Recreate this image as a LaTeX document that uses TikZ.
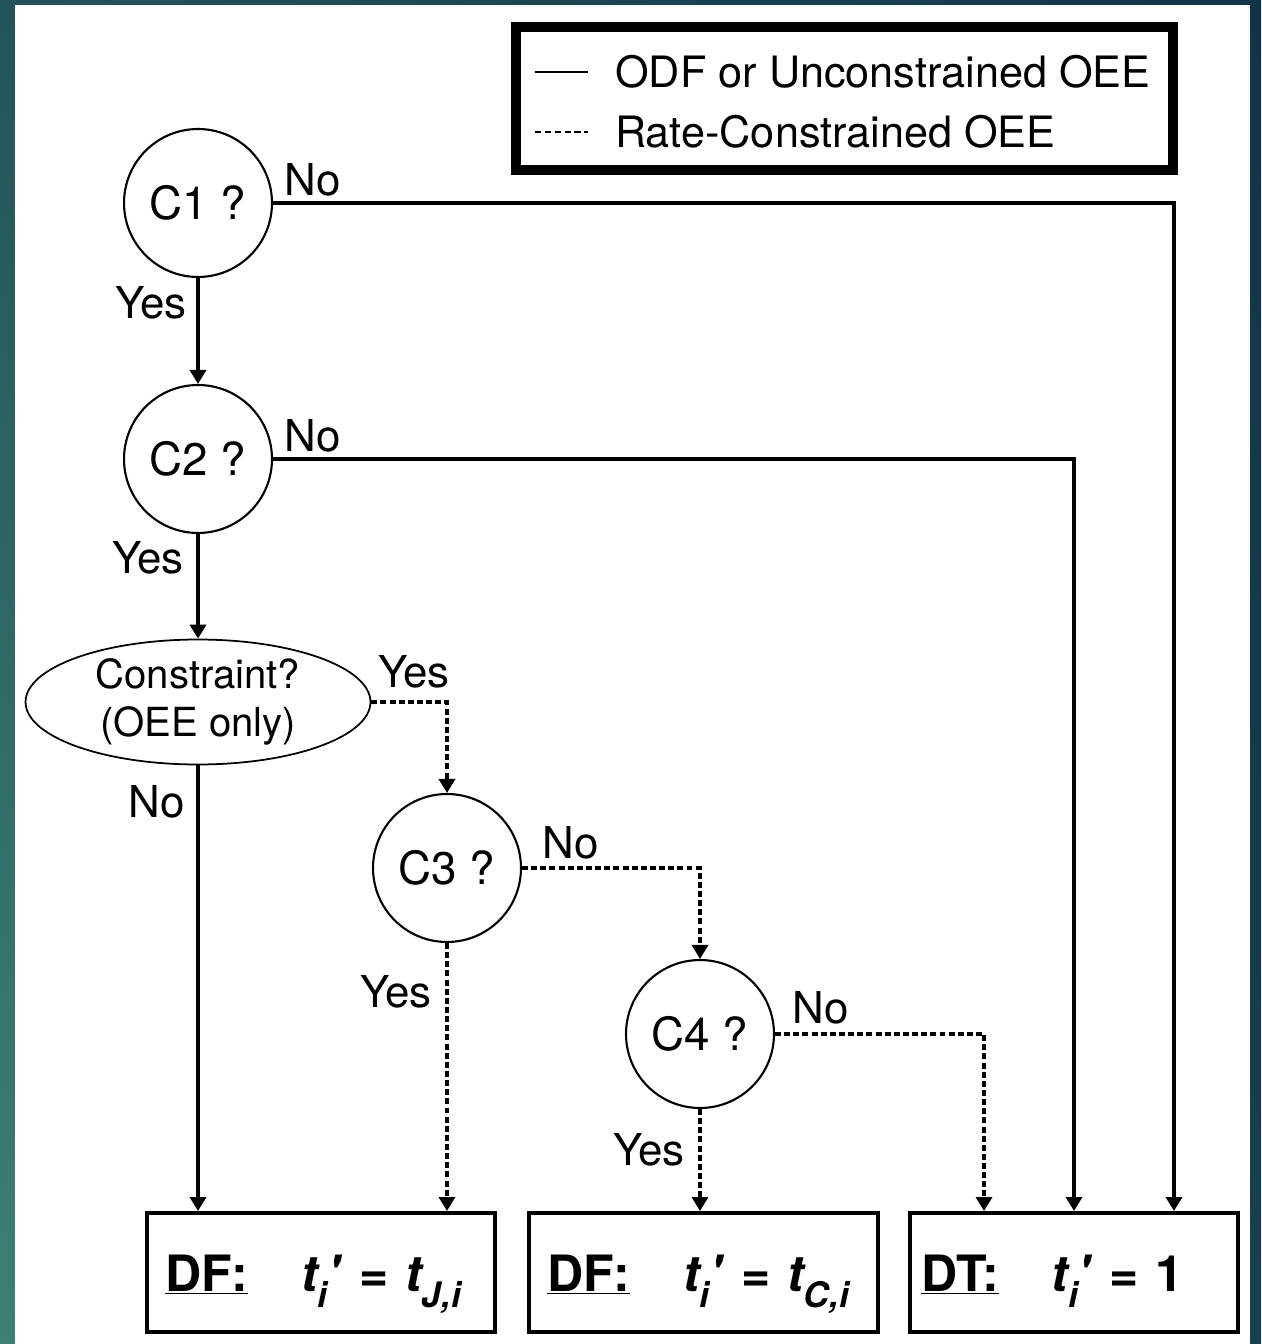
\documentclass[tikz,border=0pt]{standalone}
\usepackage{fontspec}
\setmainfont{TeX Gyre Heros}
\usetikzlibrary{arrows.meta, shapes.geometric, shadings}
\definecolor{bgtealA}{RGB}{34,84,90}
\definecolor{bgtealB}{RGB}{62,128,116}
\definecolor{bgnavyA}{RGB}{18,52,72}
\definecolor{bgnavyB}{RGB}{24,62,82}

\newcommand{\tsub}[1]{t\raisebox{-0.33em}{\fontsize{20}{20}\selectfont #1}}
\newcommand{\tprime}{\textquotesingle}

\begin{document}
\begin{tikzpicture}[x=0.02cm, y=-0.02cm,
    >={Triangle[length=0.28cm, width=0.32cm]},
    font=\fontsize{25}{30}\selectfont,
    conn/.style={->, line width=2pt},
    rateconn/.style={conn, dash pattern=on 3.4pt off 1.8pt},
    test/.style={circle, draw, line width=1.2pt, minimum size=2.96cm, inner sep=0pt,
                 font=\fontsize{26}{30}\selectfont},
    outcome/.style={draw, line width=2.3pt, minimum height=2.38cm, inner xsep=0.36cm,
                    text height=1.1cm, text depth=0.36cm,
                    align=left, font=\fontsize{28.5}{30}\selectfont\bfseries},
    lbl/.style={inner sep=0pt},
    legtext/.style={anchor=west, inner sep=0pt, font=\fontsize{24.6}{30}\selectfont}]

    % ==========================================================
    % fondo y hoja blanca
    % ==========================================================
    \useasboundingbox (0,0) rectangle (1261,1344);
    \shade[upper left=bgtealA, lower left=bgtealB, upper right=bgnavyA, lower right=bgnavyB]
        (0,0) rectangle (1261,1344);
    \fill[white] (15,5) rectangle (1250,1350);

    % ==========================================================
    % leyenda
    % ==========================================================
    \draw[line width=5.6pt] (516,27) rectangle (1173,170);
    \coordinate (solidL) at (535,72);
    \coordinate (solidR) at (588,72);
    \coordinate (dashL) at (535,132);
    \coordinate (dashR) at (588,132);
    \draw[line width=1.5pt] (solidL) -- (solidR);
    \draw[line width=1.2pt, dash pattern=on 3.6pt off 2pt] (dashL) -- (dashR);
    \node[legtext] (legodf) at (615,72) {ODF or Unconstrained OEE};
    \node[legtext] (legrate) at (615,132) {Rate-Constrained OEE};

    % ==========================================================
    % preguntas
    % ==========================================================
    \foreach \n/\x/\y/\t in {c1/198/203/C1, c2/198/459/C2, c3/447/868/C3, c4/700/1034/C4} {
        \node[test] (\n) at (\x,\y) {\t\ ?};
    }
    \node[ellipse, draw, line width=1pt, minimum width=6.9cm, minimum height=2.5cm,
          inner sep=0pt, align=center, font=\fontsize{22.8}{27.5}\selectfont]
        (cons) at (198,702) {Constraint?\\(OEE only)};

    % ==========================================================
    % resultados
    % ==========================================================
    \node[outcome, text width=6.24cm] (df1) at (321,1272.5)
        {\underline{DF:}\hspace{1.05em}\textit{\tsub{i}\tprime} = \textit{\tsub{J,i}}};
    \node[outcome, text width=6.26cm] (df2) at (703.5,1272.5)
        {\underline{DF:}\hspace{1.05em}\textit{\tsub{i}\tprime} = \textit{\tsub{C,i}}};
    \node[outcome, inner xsep=0.22cm, text width=6.12cm] (dt) at (1074,1272.5)
        {\underline{DT:}\hspace{1.05em}\textit{\tsub{i}\tprime} = 1};

    % ==========================================================
    % flechas
    % ==========================================================
    \draw[conn] (c1) -- (c2);
    \draw[conn] (c2) -- (cons);
    \draw[conn] (cons) -- (cons |- df1.north);
    \draw[conn] (c1) -| ([xshift=2cm]dt.north);
    \draw[conn] (c2) -| (dt);

    % rama con restriccion de tasa
    \draw[rateconn] (cons) -| (c3);
    \draw[rateconn] (c3) -| (c4);
    \draw[rateconn] (c3) -- (c3 |- df1.north);
    \draw[rateconn] (c4) -- (c4 |- df2.north);
    \draw[rateconn] (c4) -| ([xshift=-1.8cm]dt.north);

    \foreach \n/\x/\y/\t in {c1no/313/180/No, c1yes/151/303/Yes, c2no/313/436/No,
                             c2yes/148/558/Yes, consyes/414/672/Yes, consno/157/802/No,
                             c3no/571/843/No, c3yes/396/992/Yes, c4no/821/1008/No,
                             c4yes/649/1150/Yes} {
        \node[lbl] (\n) at (\x,\y) {\t};
    }

\end{tikzpicture}
\end{document}
